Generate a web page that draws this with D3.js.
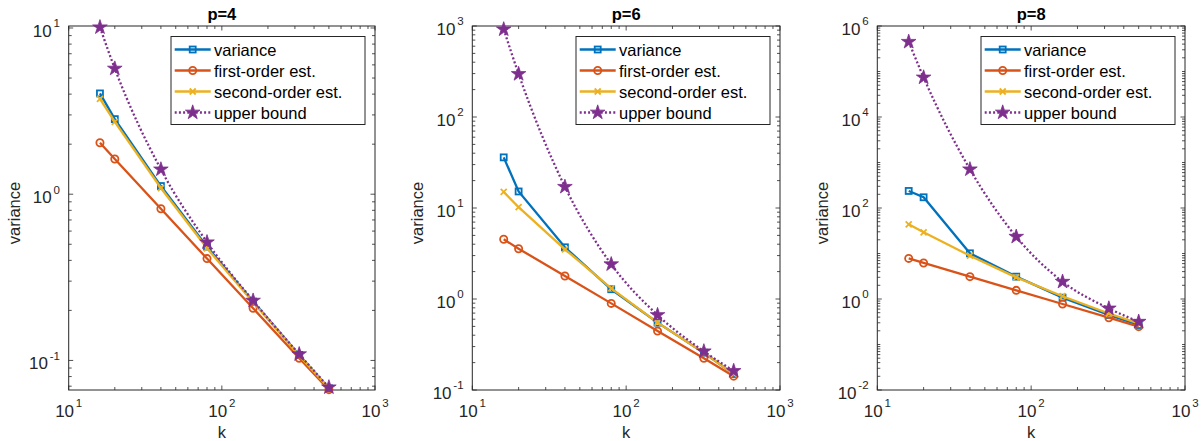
<!DOCTYPE html>
<html lang="en">
<head>
<meta charset="utf-8">
<title>variance vs k</title>
<script src="https://cdn.jsdelivr.net/npm/d3@7"></script>
<style>
  body { margin: 0; background: #fff; }
  svg { display: block; font-family: "Liberation Sans", Arial, Helvetica, sans-serif; }
</style>
</head>
<body>
<svg id="chart" width="1203" height="441"></svg>
<script>
// data
var kValues = [16, 20, 40, 80, 160, 320, 500];
var seriesNames = ["variance", "first-order est.", "second-order est.", "upper bound"];
var panelTitles = ["p=4", "p=6", "p=8"];

var variance4 = [4.04, 2.83, 1.12, 0.484, 0.226, 0.108, 0.068];
var first4    = [2.04, 1.63, 0.818, 0.41, 0.206, 0.103, 0.0667];
var second4   = [3.75, 2.72, 1.09, 0.473, 0.224, 0.107, 0.068];
var upper4    = [10.1, 5.7, 1.41, 0.514, 0.229, 0.109, 0.0689];

var variance6 = [36, 15.2, 3.7, 1.28, 0.55, 0.257, 0.15];
var first6    = [4.53, 3.57, 1.79, 0.895, 0.444, 0.223, 0.142];
var second6   = [15, 10.2, 3.52, 1.31, 0.55, 0.257, 0.15];
var upper6    = [919, 297, 17.1, 2.41, 0.667, 0.266, 0.162];

var variance8 = [237, 172, 10.1, 3.1, 1.07, 0.445, 0.268];
var first8    = [7.8, 6.2, 3.1, 1.55, 0.776, 0.388, 0.247];
var second8   = [43.8, 29.2, 8.96, 2.99, 1.15, 0.48, 0.29];
var upper8    = [4.5e5, 7.4e4, 708, 23.4, 2.4, 0.62, 0.317];

var xTicks = [10, 100, 1000];
var yTicks4 = [0.1, 1, 10];
var yTicks6 = [0.1, 1, 10, 100, 1000];
var yTicks8 = [0.01, 1, 100, 1e4, 1e6];

var yDomain4 = [0.0664, 10.28];
var yDomain6 = [0.1, 1000];
var yDomain8 = [0.01, 1e6];

var colors = ["#0072BD", "#D95319", "#EDB120", "#7E2F8E"];
var axisColor = "#262626";

var panels = [
  { title: panelTitles[0], series: [variance4, first4, second4, upper4], yTicks: yTicks4, yDomain: yDomain4, left: 68.7, right: 375 },
  { title: panelTitles[1], series: [variance6, first6, second6, upper6], yTicks: yTicks6, yDomain: yDomain6, left: 472.3, right: 780 },
  { title: panelTitles[2], series: [variance8, first8, second8, upper8], yTicks: yTicks8, yDomain: yDomain8, left: 877.3, right: 1185 }
];
var plotTop = 26, plotBottom = 390;

var svg = d3.select("#chart");

function powLabel(sel, v) {
  var e = Math.round(Math.log10(v));
  sel.text(null);
  sel.append("tspan").text("10");
  sel.append("tspan").attr("dy", -9.7).attr("dx", 1.8).style("font-size", "11.5px")
    .text(e < 0 ? "-" + (-e) : "" + e);
}

function drawMarker(g, type, color) {
  if (type === 0) {
    g.append("rect").attr("x", -3).attr("y", -3).attr("width", 6).attr("height", 6)
      .attr("fill", "none").attr("stroke", color).attr("stroke-width", 1.8);
  } else if (type === 1) {
    g.append("circle").attr("r", 3.6).attr("fill", "none").attr("stroke", color).attr("stroke-width", 1.8);
  } else if (type === 2) {
    g.append("path").attr("d", "M-3,-3L3,3M-3,3L3,-3").attr("stroke", color).attr("stroke-width", 1.8);
  } else {
    g.append("path").attr("d", d3.symbol().type(d3.symbolStar).size(66)()).attr("fill", color).attr("stroke", color).attr("stroke-width", 0.8);
  }
}

panels.forEach(function(p, pi) {
  var x = d3.scaleLog().domain([10, 1000]).range([p.left, p.right]);
  var y = d3.scaleLog().domain(p.yDomain).range([plotBottom, plotTop]);
  var g = svg.append("g");

  // minor / major ticks on all four sides
  var xMinor = [];
  for (var d = 1; d <= 2; d++) for (var j = 2; j <= 9; j++) xMinor.push(j * Math.pow(10, d));
  var yMinor = [];
  var lo = Math.floor(Math.log10(p.yDomain[0])), hi = Math.ceil(Math.log10(p.yDomain[1]));
  for (var e = lo; e <= hi; e++) {
    for (var j = 1; j <= 9; j++) {
      var v = j * Math.pow(10, e);
      if (v < p.yDomain[0] * 0.999 || v > p.yDomain[1] * 1.001) continue;
      if (p.yTicks.some(function(t) { return Math.abs(t - v) / v < 1e-6; })) continue;
      yMinor.push(v);
    }
  }
  var tk = g.append("g").attr("stroke", axisColor).attr("stroke-width", 0.8);
  function xt(vals, len) {
    vals.forEach(function(v) {
      tk.append("line").attr("x1", x(v)).attr("x2", x(v)).attr("y1", plotBottom).attr("y2", plotBottom - len);
      tk.append("line").attr("x1", x(v)).attr("x2", x(v)).attr("y1", plotTop).attr("y2", plotTop + len);
    });
  }
  function yt(vals, len) {
    vals.forEach(function(v) {
      tk.append("line").attr("y1", y(v)).attr("y2", y(v)).attr("x1", p.left).attr("x2", p.left + len);
      tk.append("line").attr("y1", y(v)).attr("y2", y(v)).attr("x1", p.right).attr("x2", p.right - len);
    });
  }
  xt(xMinor, 3);
  xt(xTicks, 4.5);
  yt(yMinor, 3);
  yt(p.yTicks, 4.5);

  g.append("rect").attr("x", p.left).attr("y", plotTop).attr("width", p.right - p.left).attr("height", plotBottom - plotTop)
    .attr("fill", "none").attr("stroke", axisColor).attr("stroke-width", 1);

  // tick labels
  xTicks.forEach(function(v) {
    g.append("text").attr("x", x(v)).attr("y", plotBottom + 26.7).attr("text-anchor", "middle")
      .style("font-size", "17px").attr("fill", axisColor).call(powLabel, v);
  });
  p.yTicks.forEach(function(v) {
    g.append("text").attr("x", p.left - 8.7).attr("y", y(v) + 9).attr("text-anchor", "end")
      .style("font-size", "17px").attr("fill", axisColor).call(powLabel, v);
  });

  // axis labels and title
  var cx = (p.left + p.right) / 2;
  g.append("text").attr("x", cx).attr("y", 19.5).attr("text-anchor", "middle")
    .style("font-size", "16.5px").style("font-weight", "bold").attr("fill", "#000").text(p.title);
  g.append("text").attr("x", cx).attr("y", 438).attr("text-anchor", "middle")
    .style("font-size", "16.5px").attr("fill", axisColor).text("k");
  g.append("text").attr("transform", "translate(" + (p.left - 49) + ",213) rotate(-90)")
    .attr("text-anchor", "middle").style("font-size", "16.5px").attr("fill", axisColor).text("variance");

  // series
  p.series.forEach(function(vals, si) {
    var pts = kValues.map(function(k, i) { return [x(k), y(vals[i])]; });
    var line = d3.line().curve(si === 3 ? d3.curveMonotoneX : d3.curveLinear);
    g.append("path").attr("d", line(pts)).attr("fill", "none").attr("stroke", colors[si])
      .attr("stroke-width", 2.3).attr("stroke-dasharray", si === 3 ? "2,2.2" : null);
    pts.forEach(function(pt) {
      drawMarker(g.append("g").attr("transform", "translate(" + pt[0] + "," + pt[1] + ")"), si, colors[si]);
    });
  });

  // legend
  var lw = 194, lh = 88;
  var lx = p.right - 10 - lw, ly = plotTop + 10.5;
  var lg = g.append("g").attr("transform", "translate(" + lx + "," + ly + ")");
  lg.append("rect").attr("width", lw).attr("height", lh).attr("fill", "#fff").attr("stroke", axisColor).attr("stroke-width", 1);
  seriesNames.forEach(function(name, si) {
    var ry = 13 + si * 21;
    lg.append("line").attr("x1", 3.7).attr("x2", 39.7).attr("y1", ry).attr("y2", ry)
      .attr("stroke", colors[si]).attr("stroke-width", 2.3).attr("stroke-dasharray", si === 3 ? "2,2.2" : null);
    drawMarker(lg.append("g").attr("transform", "translate(21.7," + ry + ")"), si, colors[si]);
    lg.append("text").attr("x", 43).attr("y", ry + 6).style("font-size", "16.5px").attr("fill", "#000").text(name);
  });
});
</script>
</body>
</html>
